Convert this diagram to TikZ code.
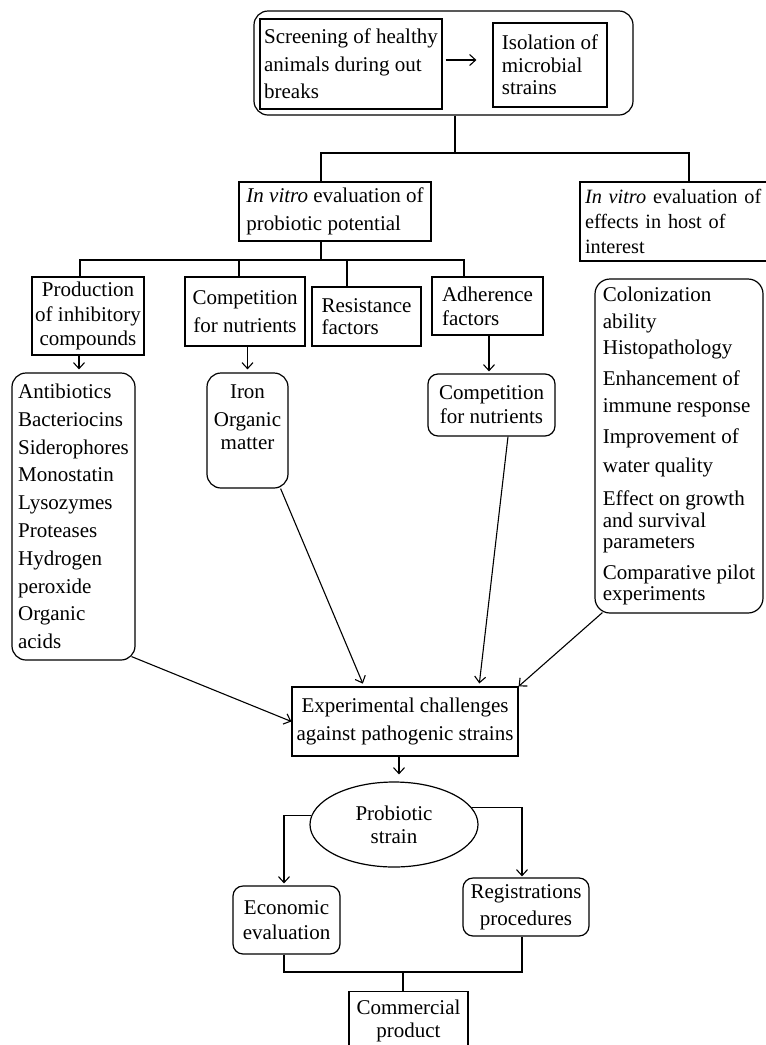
\documentclass[tikz,border=0pt]{standalone}
\usepackage{fontspec}
\setmainfont{Liberation Serif}
\usetikzlibrary{arrows.meta,shapes.geometric}
\newcommand\fsz[1]{\fontsize{21}{#1}\selectfont}
\newcommand\fszs[1]{\fontsize{20.3}{#1}\selectfont}
\begin{document}
\begin{tikzpicture}[x=1pt,y=-1pt,
  bx/.style={draw, line width=1.2pt, inner sep=0pt, align=center},
  rbx/.style={bx, rounded corners=#1},
  rbx/.default=12pt,
  txt/.style={inner sep=0pt, align=center},
  ln/.style={line width=1.1pt},
  arr/.style={ln, -{Straight Barb[length=6pt,width=11pt]}},
]
\fill[white] (0,0) rectangle (766,1045);
\useasboundingbox (0,0) rectangle (766,1045);

% top group
\node[rbx=14pt, minimum width=379, minimum height=104] (top) at (443.5,63) {};
\node[bx, align=left, minimum width=182, minimum height=90, font=\fsz{27.5}] (scr) at (351,64) {Screening of healthy\\animals during out\\breaks};
\node[bx, align=left, minimum width=114, minimum height=84, font=\fsz{22.5}] (iso) at (550,65) {Isolation of\\microbial\\strains};
\draw[arr] ([xshift=3pt,yshift=4pt]scr.east) -- ([xshift=-16pt,yshift=5pt]iso.west);

% in vitro
\node[bx, align=left, minimum width=192, minimum height=59, font=\fsz{28}] (iv1) at (335,211.5) {\textit{In vitro} evaluation of\\probiotic potential};
\node[bx, align=left, text width=210, minimum width=220, minimum height=79, font=\fszs{25}] (iv2) at (690,221.5) {\textit{In vitro} evaluation of\\effects in host of\\interest};

\coordinate (jt) at (455,153);
\coordinate (jl) at (321,153);
\coordinate (jr) at (689,153);
\draw[ln] (top.south -| jt) -- (jt);
\draw[ln] (iv1.north -| jl) -- (jl) -- (jr) -- (iv2.north -| jr);

% row 3
\node[bx, minimum width=112, minimum height=78, font=\fsz{24.5}] (prod) at (88,316) {Production\\of inhibitory\\compounds};
\node[bx, minimum width=120, minimum height=69, font=\fsz{28}] (comp) at (245,311.5) {Competition\\for nutrients};
\node[bx, align=left, minimum width=109, minimum height=59, font=\fsz{22.7}] (res) at (366.5,316.5) {Resistance\\factors};
\node[bx, align=left, minimum width=111, minimum height=58, font=\fsz{24}] (adh) at (487.5,306) {Adherence\\factors};

\coordinate (jm) at (321,260);
\coordinate (ja) at (80,260);
\coordinate (jb) at (239,260);
\coordinate (jc) at (347,260);
\coordinate (jd) at (464,260);
\draw[ln] (iv1.south -| jm) -- (jm);
\draw[ln] (prod.north -| ja) -- (ja) -- (jd) -- (adh.north -| jd);
\draw[ln] (jb) -- (comp.north -| jb);
\draw[ln] (jc) -- (res.north -| jc);

% row 4
\node[rbx=14pt, align=left, minimum width=123, minimum height=287, font=\fsz{27.8}] (anti) at (73.5,516.5) {Antibiotics\\Bacteriocins\\Siderophores\\Monostatin\\Lysozymes\\Proteases\\Hydrogen\\peroxide\\Organic\\acids};
\node[rbx=14pt, minimum width=81, minimum height=115] (iron) at (247.5,430.5) {};
\node[txt, anchor=north, font=\fsz{23}] (irontx) at ([yshift=-12pt]iron.north) {Iron\\[5pt]Organic\\matter};
\node[rbx=10pt, minimum width=127, minimum height=62, font=\fsz{24}] (comp2) at (491.5,405) {Competition\\for nutrients};
\node[rbx=15pt, align=left, minimum width=168, minimum height=334, font=\fsz{21.5}] (colo) at (679,446) {Colonization\\[5.2pt]ability\\[5.2pt]Histopathology\\[9.2pt]Enhancement of\\[5.2pt]immune response\\[10.2pt]Improvement of\\[6.8pt]water quality\\[11.8pt]Effect on growth\\and survival\\parameters\\[9.2pt]Comparative pilot\\experiments};

\coordinate (xa) at (79,0);
\coordinate (xc) at (489,0);
\draw[arr, shorten >=3pt] (prod.south -| xa) -- (anti.north -| xa);
\draw[arr, shorten >=3pt] (comp.south -| iron.north) -- (iron.north);
\draw[arr, shorten >=2pt] (adh.south -| xc) -- (comp2.north -| xc);

% experimental challenges
\node[bx, minimum width=226, minimum height=69, font=\fsz{28}] (exp) at (405,721.5) {Experimental challenges\\against pathogenic strains};
\draw[arr] ([xshift=-4pt,yshift=4pt]anti.south east) -- (exp.west);
\draw[arr, shorten >=3pt] ([xshift=-8pt]iron.south east) -- ([xshift=-41pt]exp.north);
\draw[arr, shorten >=3pt] ([xshift=16.5pt]comp2.south) -- ([xshift=74pt]exp.north);
\draw[arr] ([xshift=8pt,yshift=1pt]colo.south west) -- (exp.north east);

% probiotic strain
\node[draw, ellipse, line width=1.2pt, inner sep=0pt, minimum width=168, minimum height=85, align=center, font=\fsz{23}] (ell) at (394,824.5) {Probiotic\\strain};
\coordinate (xe) at (399,0);
\draw[arr, shorten >=7pt] (exp.south -| xe) -- (ell.north -| xe);

\node[rbx=10pt, minimum width=107, minimum height=68, font=\fsz{25}] (econ) at (286.5,920) {Economic\\evaluation};
\node[rbx=10pt, minimum width=126, minimum height=58, font=\fsz{27}] (reg) at (526,907) {Registrations\\procedures};
\coordinate (xl) at (284,0);
\coordinate (xr) at (522,0);
\draw[arr, shorten >=2pt] (ell.174) -| (econ.north -| xl);
\draw[arr, shorten >=1pt] (ell.12) -| (reg.north -| xr);

\node[bx, minimum width=119, minimum height=80, anchor=north] (comm) at (408.5,991) {};
\node[txt, anchor=north, font=\fsz{23}] (commtx) at ([yshift=-9pt]comm.north) {Commercial\\product};
\coordinate (jj) at (403,972);
\draw[ln] (econ.south -| xl) |- (jj) -| (reg.south -| xr);
\draw[ln] (jj) -- (comm.north -| jj);
\end{tikzpicture}
\end{document}
